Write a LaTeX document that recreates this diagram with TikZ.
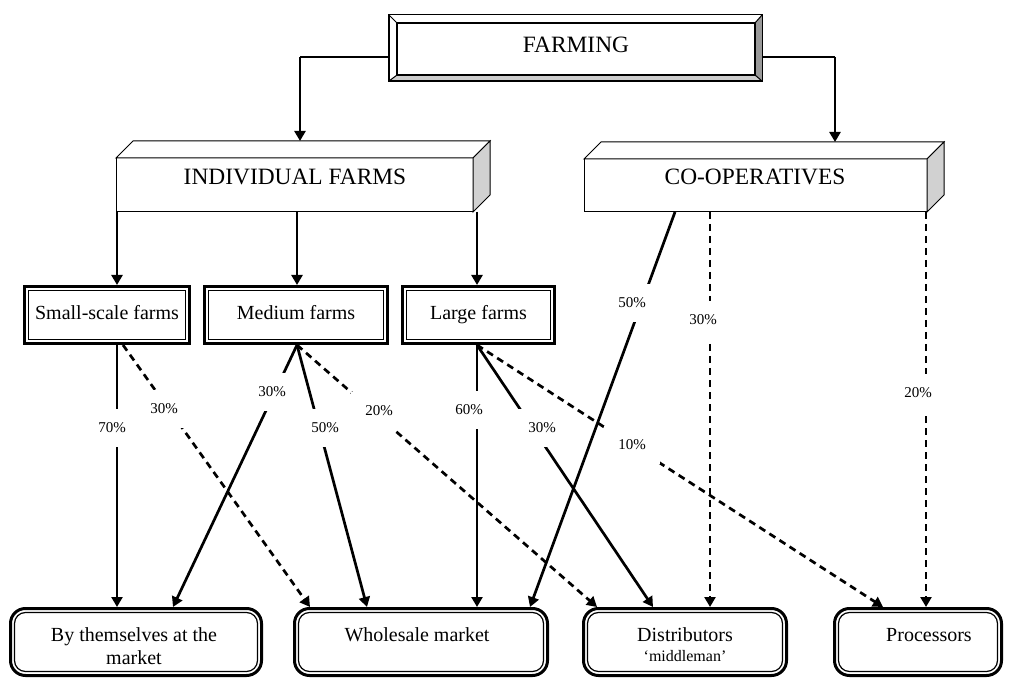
\documentclass[tikz,border=0pt]{standalone}
\usepackage{fontspec}
\setmainfont{Liberation Serif}
\usetikzlibrary{arrows.meta}
\definecolor{bevbot}{gray}{0.80}
\definecolor{bevright}{gray}{0.60}
\definecolor{sidegray}{gray}{0.82}
\begin{document}
\begin{tikzpicture}[x=1pt,y=-1pt,
 hdr/.style={font=\fontsize{23.4}{28}\selectfont, inner sep=0},
 btxt/.style={font=\fontsize{20}{23}\selectfont, inner sep=0, align=center},
 smtxt/.style={font=\fontsize{16}{19}\selectfont, inner sep=0},
 pct/.style={fill=white, font=\fontsize{15}{18}\selectfont, minimum width=56pt, minimum height=38pt, inner sep=0},
 arr/.style={line width=2.7pt, -{Triangle[length=10pt,width=11pt]}},
 dsh/.style={arr, dash pattern=on 7pt off 5pt},
 thinline/.style={line width=1.2pt},
 farmbox/.style={draw, line width=3pt, minimum height=57pt, inner sep=0, text height=13.5pt, text depth=4.5pt, font=\fontsize{20}{23}\selectfont},
 outbox/.style={draw, line width=3pt, rounded corners=15pt, minimum height=67pt, inner sep=0},
 cube/.style={draw, line width=1pt, fill=white, outer sep=0, inner sep=0},
]
\useasboundingbox (0,0) rectangle (1013,679);

% ---------- FARMING bevel box ----------
\node[draw, line width=1.5pt, outer sep=0, minimum width=373.5pt, minimum height=66.5pt, fill=white] (farm) at (575.5,48) {};
\coordinate (fi1) at (397,23);
\coordinate (fi2) at (755,75);
\fill[bevbot] (farm.south west) -- (farm.south east) -- (fi2) -- (fi2 -| fi1) -- cycle;
\fill[bevright] (farm.north east) -- (farm.south east) -- (fi2) -- (fi1 -| fi2) -- cycle;
\draw[line width=1.5pt] (farm.north west) rectangle (farm.south east);
\draw[line width=1.2pt] (fi1) rectangle (fi2);
\draw[line width=1pt] (farm.north west) -- (fi1) (farm.south east) -- (fi2)
  (farm.north east) -- (fi1 -| fi2) (farm.south west) -- (fi2 -| fi1);
\node[hdr] (farmt) at (576,45) {FARMING};

% ---------- 3D boxes ----------
\node[cube, minimum width=357pt, minimum height=54pt] (ind) at (294.5,185) {};
\draw[line width=1pt, fill=white] (ind.north west) -- ([shift={(17,-17)}]ind.north west) -- ([shift={(17,-17)}]ind.north east) -- (ind.north east) -- cycle;
\draw[line width=1pt, fill=sidegray] (ind.north east) -- ([shift={(17,-17)}]ind.north east) -- ([shift={(17,-17)}]ind.south east) -- (ind.south east) -- cycle;
\node[hdr] (indt) at (295,177) {INDIVIDUAL FARMS};
\coordinate (indtop) at ([yshift=17pt]ind.north);

\node[cube, minimum width=343pt, minimum height=53pt] (co) at (755.5,185.5) {};
\draw[line width=1pt, fill=white] (co.north west) -- ([shift={(17,-17)}]co.north west) -- ([shift={(17,-17)}]co.north east) -- (co.north east) -- cycle;
\draw[line width=1pt, fill=sidegray] (co.north east) -- ([shift={(17,-17)}]co.north east) -- ([shift={(17,-17)}]co.south east) -- (co.south east) -- cycle;
\node[hdr] (cot) at (755,177) {CO-OPERATIVES};
\coordinate (cotop) at ([yshift=17pt]co.north);

% ---------- farm size boxes ----------
\node[farmbox, minimum width=165pt] (sm) at (107,315) {Small-scale farms};
\node[farmbox, minimum width=183pt] (md) at (296,315) {Medium farms};
\node[farmbox, minimum width=152pt] (lg) at (478.5,315) {Large farms};
\foreach \n in {sm,md,lg}{
  \draw[line width=1.2pt] ([shift={(5.5,5.5)}]\n.north west) rectangle ([shift={(-5.5,-5.5)}]\n.south east);
}

% ---------- outlet boxes ----------
\node[outbox, minimum width=251pt] (by) at (136,642) {};
\node[outbox, minimum width=253pt] (wh) at (421,642) {};
\node[outbox, minimum width=203pt] (dist) at (685,642) {};
\node[outbox, minimum width=167pt] (proc) at (918,642) {};
\foreach \n in {by,wh,dist,proc}{
  \draw[line width=1.2pt, rounded corners=11pt] ([shift={(5.5,5.5)}]\n.north west) rectangle ([shift={(-5.5,-5.5)}]\n.south east);
}
\node[btxt] (byt) at (134,646.5) {By themselves at the\\market};
\node[btxt] (wht) at (417,635) {Wholesale market};
\node[btxt] (distt) at (685,635) {Distributors};
\node[smtxt] (distm) at (685,656) {‘middleman’};
\node[btxt] (proct) at (929,635) {Processors};

% ---------- connectors from FARMING ----------
\coordinate (k1) at (300,57);
\coordinate (k2) at (835,57);
\draw[thinline] (farm.west |- k1) -- (k1);
\draw[thinline] (farm.east |- k2) -- (k2);
\draw[arr] (k1) -- (k1 |- indtop);
\draw[arr] (k2) -- (k2 |- cotop);

% ---------- individual farms to sizes ----------
\draw[arr] (117,0 |- ind.south) -- (117,0 |- sm.north);
\draw[arr] (297,0 |- ind.south) -- (297,0 |- md.north);
\draw[arr] (477,0 |- ind.south) -- (477,0 |- lg.north);

% ---------- flows to outlets ----------
\draw[arr] (117,0 |- sm.south) -- (117,0 |- by.north);
\draw[dsh] (123,0 |- sm.south) -- (310,0 |- wh.north);
\draw[arr] (297,0 |- md.south) -- (173,0 |- by.north);
\draw[arr] (297,0 |- md.south) -- (367,0 |- wh.north);
\draw[dsh] (297,0 |- md.south) -- (597,0 |- dist.north);
\draw[arr] (477,0 |- lg.south) -- (477,0 |- wh.north);
\draw[arr] (477,0 |- lg.south) -- (653,0 |- dist.north);
\draw[dsh] (477,0 |- lg.south) -- (883,0 |- proc.north);
\draw[arr] (675,0 |- co.south) -- (530,0 |- wh.north);
\draw[dsh] (710,0 |- co.south) -- (710,0 |- dist.north);
\draw[dsh] (926,0 |- co.south) -- (926,0 |- proc.north);

% ---------- percentage labels ----------
\node[pct] (p1) at (112,428) {70\%};
\node[pct] (p2) at (164,409) {30\%};
\node[pct] (p3) at (272,392) {30\%};
\node[pct] (p4) at (325,428) {50\%};
\node[pct] (p5) at (379,411) {20\%};
\node[pct] (p6) at (469,410) {60\%};
\node[pct] (p7) at (542,428) {30\%};
\node[pct] (p8) at (632,445) {10\%};
\node[pct] (p9) at (632,303) {50\%};
\node[pct] (p10) at (703,320) {30\%};
\node[pct] (p11) at (918,393) {20\%};
\end{tikzpicture}
\end{document}
